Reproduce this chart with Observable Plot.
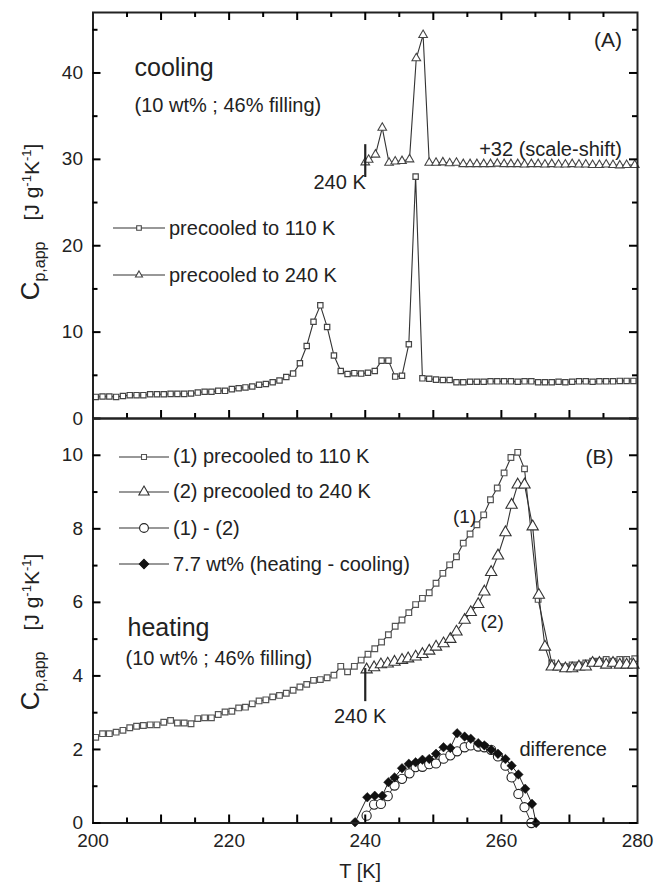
<!DOCTYPE html>
<html><head><meta charset="utf-8">
<script src="https://cdn.jsdelivr.net/npm/d3@7"></script>
<script src="https://cdn.jsdelivr.net/npm/@observablehq/plot@0.6"></script>
<style>
body{margin:0;background:#fff;}
#wrap{position:relative;width:654px;height:885px;overflow:hidden;font-family:"Liberation Sans",Arial,Helvetica,sans-serif;color:#222;}
.leg{position:absolute;display:flex;align-items:center;font-size:20px;white-space:nowrap;height:24px;}
.leg svg{display:block;}
</style></head><body><div id="wrap"></div>
<script>
// ---------- data ----------
// Panel A: cooling, precooled to 110 K (squares)
const coolT110 = [200.4,201.4,202.4,203.4,204.4,205.4,206.4,207.4,208.4,209.4,210.4,211.4,212.4,213.4,214.4,215.4,216.4,217.4,218.4,219.4,220.4,221.4,222.4,223.4,224.4,225.4,226.4,227.4,228.4,229.4,230.4,231.4,232.4,233.4,234.4,235.4,236.4,237.4,238.4,239.4,240.4,241.4,242.4,243.4,244.4,245.4,246.4,247.4,248.4,249.4,250.4,251.4,252.4,253.4,254.4,255.4,256.4,257.4,258.4,259.4,260.4,261.4,262.4,263.4,264.4,265.4,266.4,267.4,268.4,269.4,270.4,271.4,272.4,273.4,274.4,275.4,276.4,277.4,278.4,279.4];
const coolCp110 = [2.5,2.55,2.55,2.5,2.6,2.7,2.7,2.7,2.8,2.8,2.8,2.85,2.85,2.85,2.9,3.0,3.1,3.1,3.2,3.2,3.4,3.5,3.6,3.7,3.9,4.0,4.2,4.4,4.8,5.2,6.4,8.4,11.2,13.1,10.6,7.3,5.5,5.15,5.25,5.2,5.3,5.5,6.7,6.7,4.85,4.95,8.6,28.0,4.65,4.6,4.5,4.45,4.45,4.2,4.2,4.25,4.25,4.25,4.3,4.3,4.3,4.3,4.25,4.3,4.3,4.2,4.2,4.2,4.25,4.2,4.25,4.3,4.3,4.25,4.3,4.3,4.3,4.35,4.35,4.35];
// Panel A: cooling, precooled to 240 K (triangles, shifted +32)
const coolT240 = [240.0,240.5,241.5,242.5,243.5,244.4,245.4,246.5,247.5,248.5,249.4,250.4,251.4,252.4,253.4,254.4,255.4,256.4,257.4,258.4,259.4,260.4,261.4,262.4,263.4,264.4,265.4,266.4,267.4,268.4,269.4,270.4,271.4,272.4,273.4,274.4,275.4,276.4,277.4,278.4,279.6];
const coolCp240 = [29.65,29.95,30.55,33.65,29.6,29.75,29.8,30.0,41.7,44.4,29.6,29.6,29.65,29.55,29.6,29.45,29.45,29.45,29.45,29.45,29.5,29.45,29.45,29.45,29.4,29.45,29.45,29.4,29.45,29.4,29.4,29.45,29.4,29.4,29.35,29.35,29.4,29.35,29.3,29.35,29.35];
// Panel B: heating (1) precooled to 110 K (squares)
const heatT110 = [200.4,201.4,202.4,203.4,204.4,205.4,206.4,207.4,208.4,209.4,210.4,211.4,212.4,213.4,214.4,215.4,216.4,217.4,218.4,219.4,220.4,221.4,222.4,223.4,224.4,225.4,226.4,227.4,228.4,229.4,230.4,231.4,232.4,233.4,234.4,235.4,236.4,237.4,238.4,239.4,240.4,241.4,242.4,243.4,244.4,245.4,246.4,247.4,248.4,249.4,250.4,251.4,252.4,253.4,254.4,255.4,256.4,257.4,258.4,259.4,260.4,261.4,262.4,263.4,265.4,267.4,268.4,269.4,270.4,271.4,272.4,273.4,274.4,275.4,276.4,277.4,278.4,279.6];
const heatCp110 = [2.33,2.43,2.43,2.47,2.52,2.59,2.63,2.65,2.67,2.67,2.74,2.79,2.72,2.72,2.7,2.84,2.86,2.86,2.95,3.02,3.04,3.13,3.15,3.24,3.32,3.35,3.43,3.47,3.53,3.61,3.70,3.77,3.88,3.9,3.95,4.02,4.26,4.11,4.26,4.43,4.59,4.74,4.92,5.12,5.35,5.52,5.72,5.94,6.11,6.26,6.52,6.79,7.02,7.24,7.61,7.86,8.11,8.38,8.79,9.11,9.52,9.94,10.08,9.63,6.08,4.35,4.25,4.25,4.3,4.3,4.35,4.4,4.4,4.45,4.4,4.45,4.45,4.47];
// Panel B: heating (2) precooled to 240 K (triangles)
const heatT240 = [240.2,241.3,242.3,243.3,244.3,245.4,246.3,247.4,248.4,249.4,250.4,251.5,252.5,253.4,254.6,255.5,256.6,257.5,258.5,259.5,260.6,261.5,262.4,263.4,264.6,265.5,266.4,267.4,268.4,269.4,270.4,271.4,272.4,273.4,274.4,275.4,276.4,277.4,278.4,279.4];
const heatCp240 = [4.17,4.23,4.31,4.33,4.38,4.43,4.47,4.52,4.59,4.68,4.79,4.88,5.0,5.2,5.52,5.73,5.95,6.29,6.82,7.27,7.9,8.65,9.2,9.2,8.06,6.2,4.79,4.25,4.25,4.2,4.2,4.25,4.25,4.35,4.35,4.3,4.35,4.3,4.3,4.3];
// Panel B: (1) - (2) (open circles)
const diffT = [240.2,241.3,242.3,243.3,244.3,245.4,246.5,247.4,248.4,249.4,250.4,251.5,252.5,253.5,254.6,255.5,256.6,257.5,258.5,259.5,260.6,261.5,262.5,263.4,264.4];
const diffCp = [0.2,0.5,0.52,0.73,1.02,1.2,1.35,1.52,1.53,1.6,1.62,1.75,1.84,1.95,2.06,2.11,2.08,2.06,1.99,1.81,1.56,1.24,0.79,0.43,0.0];
// Panel B: 7.7 wt% (heating - cooling) (filled diamonds)
const refT = [238.5,240.3,241.4,242.5,243.4,244.3,245.4,246.4,247.4,248.4,249.4,250.4,251.5,252.5,253.5,254.6,255.5,256.6,257.5,258.5,259.5,260.6,261.5,262.5,263.5,264.5,265.1];
const refCp = [0.02,0.70,0.74,0.74,1.11,1.24,1.49,1.61,1.65,1.72,1.74,1.88,2.06,2.04,2.44,2.35,2.29,2.17,2.11,1.99,1.88,1.74,1.56,1.32,0.93,0.52,0.0];

// annotations / ticks
const markT = 240;
const markA = [27.9, 31.7];
const markB = [3.3, 4.2];
const xDomain = [200, 280];
const xLabelTicks = [200, 220, 240, 260, 280];
const xMajor = [210, 220, 230, 240, 250, 260, 270];
const xMinor = [205, 215, 225, 235, 245, 255, 265, 275];
const yDomainA = [0, 47], yTicksA = [0, 10, 20, 30, 40], yMinorA = [5, 15, 25, 35, 45];
const yDomainB = [0, 11], yTicksB = [0, 2, 4, 6, 8, 10], yMinorB = [1, 3, 5, 7, 9];

const legendA = ["precooled to 110 K", "precooled to 240 K"];
const legendB = ["(1) precooled to 110 K", "(2) precooled to 240 K", "(1) - (2)", "7.7 wt% (heating - cooling)"];

// ---------- layout ----------
const FONT = '"Liberation Sans", Arial, Helvetica, sans-serif';
const W = 654, ML = 92.5, MR = 17;
const PW = W - ML - MR;
const HA = 406, HB = 404.5;
const INK = "#222";
const zip = (T, v) => T.map((t, i) => ({T: t, v: v[i]}));

// inward tick marks on the frame: pixel lengths converted to data units
function tickMarks(H, yDom, yMaj, yMin, top) {
  const M = 8, m = 5;
  const ky = (yDom[1] - yDom[0]) / H;
  const kx = (xDomain[1] - xDomain[0]) / PW;
  const o = {stroke: "#000", strokeWidth: 2};
  const out = [
    Plot.ruleX(xMajor, {y1: yDom[0], y2: yDom[0] + M * ky, ...o}),
    Plot.ruleX(xMinor, {y1: yDom[0], y2: yDom[0] + m * ky, ...o}),
    Plot.ruleY(yMaj, {x1: xDomain[0], x2: xDomain[0] + M * kx, ...o}),
    Plot.ruleY(yMin, {x1: xDomain[0], x2: xDomain[0] + m * kx, ...o}),
    Plot.ruleY(yMaj, {x1: xDomain[1] - M * kx, x2: xDomain[1], ...o}),
    Plot.ruleY(yMin, {x1: xDomain[1] - m * kx, x2: xDomain[1], ...o})
  ];
  if (top) {
    out.push(Plot.ruleX(xMajor, {y1: yDom[1] - M * ky, y2: yDom[1], ...o}));
    out.push(Plot.ruleX(xMinor, {y1: yDom[1] - m * ky, y2: yDom[1], ...o}));
  }
  return out;
}
const label = (s, o) => Plot.text([s], {textAnchor: "start", lineAnchor: "bottom", fill: INK, fontSize: 20, ...o});

const cA1 = zip(coolT110, coolCp110), cA2 = zip(coolT240, coolCp240);
const hB1 = zip(heatT110, heatCp110), hB2 = zip(heatT240, heatCp240);
const dB = zip(diffT, diffCp), rB = zip(refT, refCp);

const plotA = Plot.plot({
  width: W, height: HA + 14, marginLeft: ML, marginRight: MR, marginTop: 12, marginBottom: 2,
  style: {fontFamily: FONT, fontSize: "19px", color: INK, background: "transparent", overflow: "visible"},
  x: {domain: xDomain, axis: null},
  y: {domain: yDomainA, ticks: yTicksA, tickSize: 0, tickPadding: 10, label: null},
  marks: [
    Plot.line(cA1, {x: "T", y: "v", stroke: "#333", strokeWidth: 1.1}),
    Plot.dot(cA1, {x: "T", y: "v", symbol: "square", r: 3, stroke: "#444", fill: "white", strokeWidth: 1.2}),
    Plot.line(cA2, {x: "T", y: "v", stroke: "#333", strokeWidth: 1.1}),
    Plot.dot(cA2, {x: "T", y: "v", symbol: "triangle", r: 3.2, stroke: "#444", fill: "white", strokeWidth: 1.1}),
    Plot.ruleX([markT], {y1: markA[0], y2: markA[1], stroke: INK, strokeWidth: 2.2}),
    label("cooling", {frameAnchor: "top-left", dx: 41.5, dy: 63, fontSize: 25}),
    label("(10 wt% ; 46% filling)", {frameAnchor: "top-left", dx: 41.5, dy: 99}),
    label("(A)", {frameAnchor: "top-right", dx: -15.5, dy: 34, textAnchor: "end", fontSize: 21}),
    label("+32 (scale-shift)", {frameAnchor: "top-right", dx: -15.5, dy: 143, textAnchor: "end"}),
    label("240 K", {frameAnchor: "top-left", dx: 220.5, dy: 176}),
    Plot.frame({stroke: INK, strokeWidth: 2}),
    ...tickMarks(HA, yDomainA, yTicksA, yMinorA, true)
  ]
});

const plotB = Plot.plot({
  width: W, height: 885 - 416, marginLeft: ML, marginRight: MR, marginTop: 2, marginBottom: 885 - 416 - 2 - HB,
  style: {fontFamily: FONT, fontSize: "19px", color: INK, background: "transparent", overflow: "visible"},
  x: {domain: xDomain, ticks: xLabelTicks, tickSize: 0, tickPadding: 10, label: null},
  y: {domain: yDomainB, ticks: yTicksB, tickSize: 0, tickPadding: 10, label: null},
  marks: [
    Plot.line(hB1, {x: "T", y: "v", stroke: "#333", strokeWidth: 1.1}),
    Plot.dot(hB1, {x: "T", y: "v", symbol: "square", r: 3.2, stroke: "#555", fill: "white", strokeWidth: 1.2}),
    Plot.line(hB2, {x: "T", y: "v", stroke: "#333", strokeWidth: 1.1}),
    Plot.dot(hB2, {x: "T", y: "v", symbol: "triangle", r: 4.2, stroke: "#333", fill: "white", strokeWidth: 1.1}),
    Plot.line(dB, {x: "T", y: "v", stroke: "#333", strokeWidth: 1}),
    Plot.dot(dB, {x: "T", y: "v", symbol: "circle", r: 4.6, stroke: "#222", fill: "white", strokeWidth: 1.1}),
    Plot.line(rB, {x: "T", y: "v", stroke: "#222", strokeWidth: 1}),
    Plot.dot(rB, {x: "T", y: "v", symbol: "diamond2", r: 4.3, stroke: "#111", fill: "#111", strokeWidth: 0.5}),
    Plot.ruleX([markT], {y1: markB[0], y2: markB[1], stroke: INK, strokeWidth: 2.2}),
    label("(B)", {frameAnchor: "top-right", dx: -24, dy: 45, textAnchor: "end", fontSize: 21}),
    label("(1)", {frameAnchor: "top-left", dx: 360, dy: 104, fontSize: 19}),
    label("(2)", {frameAnchor: "top-left", dx: 387.5, dy: 209, fontSize: 19}),
    label("heating", {frameAnchor: "top-left", dx: 34.5, dy: 217, fontSize: 25}),
    label("(10 wt% ; 46% filling)", {frameAnchor: "top-left", dx: 32.5, dy: 246}),
    label("240 K", {frameAnchor: "top-left", dx: 241, dy: 304}),
    label("difference", {frameAnchor: "top-left", dx: 426.5, dy: 337}),
    label("T [K]", {frameAnchor: "bottom", dx: -5, dy: 55, textAnchor: "middle"}),
    Plot.frame({stroke: INK, strokeWidth: 2}),
    ...tickMarks(HB, yDomainB, yTicksB, yMinorB, false)
  ]
});

const wrap = document.getElementById("wrap");
plotA.style.position = "absolute"; plotA.style.left = "0px"; plotA.style.top = "0px";
plotB.style.position = "absolute"; plotB.style.left = "0px"; plotB.style.top = "416px";
wrap.appendChild(plotA);
wrap.appendChild(plotB);

// y-axis titles: C_{p,app}  [J g^-1 K^-1]
function yTitle(svg, cx, cy) {
  const t = d3.select(svg).append("text")
    .attr("transform", `translate(${cx},${cy}) rotate(-90)`)
    .attr("text-anchor", "middle").attr("fill", INK)
    .style("font-family", FONT);
  t.append("tspan").attr("font-size", 26).text("C");
  t.append("tspan").attr("font-size", 16).attr("dy", 6).text("p,app");
  t.append("tspan").attr("font-size", 21).attr("dy", -6).text("\u2002\u2002[J g");
  t.append("tspan").attr("font-size", 13).attr("dy", -8).text("-1");
  t.append("tspan").attr("font-size", 21).attr("dy", 8).text("K");
  t.append("tspan").attr("font-size", 13).attr("dy", -8).text("-1");
  t.append("tspan").attr("font-size", 21).attr("dy", 8).text("]");
}
yTitle(plotA, 39, 222);
yTitle(plotB, 39, 632 - 416);

// legends (HTML overlay)
function sym(type, r) { return d3.symbol(type, Math.PI * r * r)(); }
function legendEntry(text, top, left, lineW, type, r, fill, stroke) {
  const div = document.createElement("div");
  div.className = "leg";
  div.style.top = (top - 12) + "px";
  div.style.left = left + "px";
  const svg = d3.create("svg").attr("width", lineW).attr("height", 16);
  svg.append("line").attr("x1", 0).attr("x2", lineW).attr("y1", 8).attr("y2", 8).attr("stroke", "#333").attr("stroke-width", 1.1);
  svg.append("path").attr("d", sym(type, r)).attr("transform", `translate(${lineW / 2},8)`)
    .attr("fill", fill).attr("stroke", stroke).attr("stroke-width", 1.1);
  div.appendChild(svg.node());
  const span = document.createElement("span");
  span.style.marginLeft = "4px";
  span.textContent = text;
  div.appendChild(span);
  wrap.appendChild(div);
}
legendEntry(legendA[0], 228, 113, 52, d3.symbolSquare, 2.6, "white", "#444");
legendEntry(legendA[1], 275, 113, 52, d3.symbolTriangle, 2.6, "white", "#444");
legendEntry(legendB[0], 456.7, 119, 50, d3.symbolSquare, 2.8, "white", "#555");
legendEntry(legendB[1], 491.7, 119, 50, d3.symbolTriangle, 3.8, "white", "#333");
legendEntry(legendB[2], 528.3, 119, 50, d3.symbolCircle, 4.4, "white", "#222");
legendEntry(legendB[3], 564, 119, 50, d3.symbolDiamond2, 4.2, "#111", "#111");
</script></body></html>
